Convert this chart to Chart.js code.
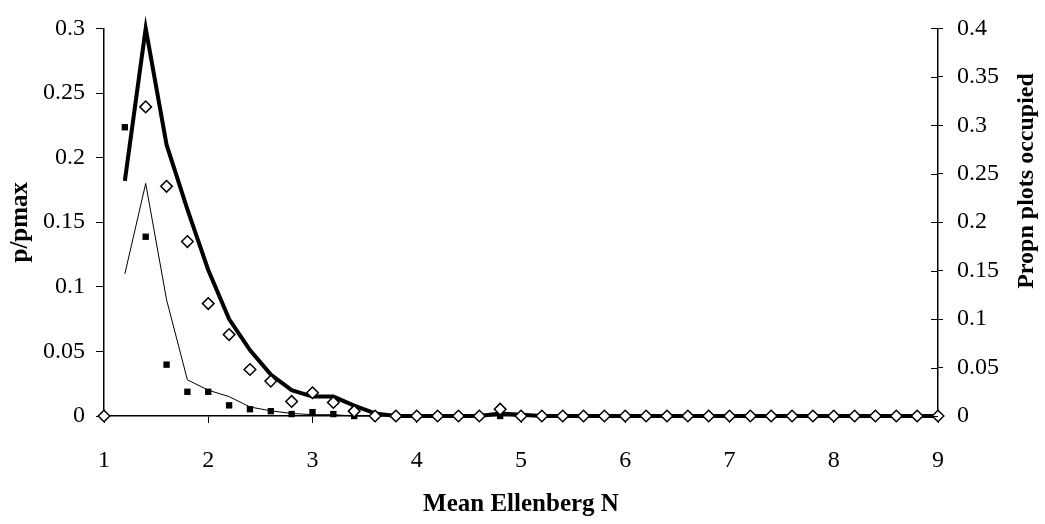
<!DOCTYPE html>
<html>
<head>
<meta charset="utf-8">
<title>Mean Ellenberg N</title>
<script src="https://cdn.jsdelivr.net/npm/chart.js@4.4.1/dist/chart.umd.min.js"></script>
<style>
    html, body { margin: 0; padding: 0; background: #fff; }
    #wrap { width: 1045px; height: 524px; position: relative; }
</style>
</head>
<body>
<div id="wrap"><canvas id="chart"></canvas></div>
<script>
// ==================== DATA ====================

const ellenbergN = [
    1.0, 1.2, 1.4, 1.6, 1.8, 2.0, 2.2, 2.4, 2.6, 2.8,
    3.0, 3.2, 3.4, 3.6, 3.8, 4.0, 4.2, 4.4, 4.6, 4.8,
    5.0, 5.2, 5.4, 5.6, 5.8, 6.0, 6.2, 6.4, 6.6, 6.8,
    7.0, 7.2, 7.4, 7.6, 7.8, 8.0, 8.2, 8.4, 8.6, 8.8,
    9.0
];

// p/pmax (left axis)
const pThick = [
    null, 0.182, 0.300, 0.210, 0.160, 0.113, 0.075, 0.051, 0.032, 0.020,
    0.015, 0.015, 0.008, 0.002, 0, 0, 0, 0, 0, 0.002,
    0.001, 0, 0, 0, 0, 0, 0, 0, 0, 0,
    0, 0, 0, 0, 0, 0, 0, 0, 0, 0,
    0
];
const pThin = [
    null, 0.110, 0.180, 0.090, 0.028, 0.020, 0.015, 0.007, 0.004, 0.002,
    0.001, 0.001, 0, 0, 0, 0, 0, 0, 0, 0.001,
    0, 0, 0, 0, 0, 0, 0, 0, 0, 0,
    0, 0, 0, 0, 0, 0, 0, 0, 0, 0,
    0
];

// Propn plots occupied (right axis)
const propOpen = [
    0, null, 0.319, 0.237, 0.180, 0.116, 0.084, 0.048, 0.036, 0.015,
    0.024, 0.014, 0.005, 0, 0, 0, 0, 0, 0, 0.007,
    0, 0, 0, 0, 0, 0, 0, 0, 0, 0,
    0, 0, 0, 0, 0, 0, 0, 0, 0, 0,
    0
];
const propFilled = [
    0, 0.298, 0.185, 0.053, 0.025, 0.025, 0.011, 0.007, 0.005, 0.002,
    0.004, 0.002, 0, 0, 0, 0, 0, 0, 0, 0,
    0, 0, 0, 0, 0, 0, 0, 0, 0, 0,
    0, 0, 0, 0, 0, 0, 0, 0, 0, 0,
    0
];

const xTitle = 'Mean Ellenberg N';
const yLeftTitle = 'p/pmax';
const yRightTitle = 'Propn plots occupied';

// ==================== HELPERS ====================

const FONT = "'Liberation Serif', 'Times New Roman', serif";
const AXIS_BORDER = { color: '#000', width: 1.5, dash: [2, 1] };

function toPoints(values) {
    return ellenbergN.map((x, i) => ({ x: x, y: values[i] }));
}

function fixedSize(prop, size) {
    return function(scale) { scale[prop] = size; };
}

// right axis ticks cross the axis line, and its title reads bottom-to-top
const rightAxisExtras = {
    id: 'rightAxisExtras',
    afterDraw(chart) {
        const ctx = chart.ctx;
        const y2 = chart.scales.y2;
        const area = chart.chartArea;
        ctx.save();
        ctx.strokeStyle = '#000';
        ctx.lineWidth = 1;
        y2.ticks.forEach(t => {
            const py = Math.round(y2.getPixelForValue(t.value)) + 0.5;
            ctx.beginPath();
            ctx.moveTo(area.right - 7, py);
            ctx.lineTo(area.right, py);
            ctx.stroke();
        });
        ctx.translate(1027, 181);
        ctx.rotate(-Math.PI / 2);
        ctx.font = 'bold 24px ' + FONT;
        ctx.fillStyle = '#000';
        ctx.textAlign = 'center';
        ctx.textBaseline = 'middle';
        ctx.fillText(yRightTitle, 0, 0);
        ctx.restore();
    }
};

// ==================== CHART ====================

const chart = new Chart(document.getElementById('chart'), {
    type: 'line',
    data: {
        datasets: [
            {
                data: toPoints(propOpen),
                yAxisID: 'y2',
                showLine: false,
                pointStyle: 'rectRot',
                pointRadius: 5.8,
                pointBorderWidth: 1.5,
                pointBorderColor: '#000',
                pointBackgroundColor: '#fff'
            },
            {
                data: toPoints(propFilled),
                yAxisID: 'y2',
                showLine: false,
                pointStyle: 'rect',
                pointRadius: 4.5,
                pointBorderWidth: 0,
                pointBorderColor: '#000',
                pointBackgroundColor: '#000'
            },
            {
                data: toPoints(pThick),
                yAxisID: 'y',
                borderColor: '#000',
                borderWidth: 4,
                borderJoinStyle: 'miter',
                pointRadius: 0,
                tension: 0
            },
            {
                data: toPoints(pThin),
                yAxisID: 'y',
                borderColor: '#000',
                borderWidth: 1,
                pointRadius: 0,
                tension: 0
            }
        ]
    },
    options: {
        responsive: true,
        maintainAspectRatio: false,
        animation: false,
        clip: false,
        layout: { padding: { top: 18, left: 0, right: 0, bottom: 0 } },
        plugins: {
            legend: { display: false },
            tooltip: { enabled: false }
        },
        scales: {
            x: {
                type: 'linear',
                position: 'bottom',
                min: 1,
                max: 9,
                afterFit: fixedSize('height', 108),
                border: AXIS_BORDER,
                grid: { drawOnChartArea: false, tickLength: 7, color: '#000' },
                ticks: {
                    stepSize: 1,
                    padding: 23,
                    color: '#000',
                    font: { family: FONT, size: 24 }
                },
                title: {
                    display: true,
                    text: xTitle,
                    color: '#000',
                    padding: { top: 0, bottom: 4 },
                    font: { family: FONT, size: 25, weight: 'bold' }
                }
            },
            y: {
                position: 'left',
                min: 0,
                max: 0.3,
                afterFit: fixedSize('width', 104),
                border: AXIS_BORDER,
                grid: { drawOnChartArea: false, tickLength: 8, color: '#000' },
                ticks: {
                    stepSize: 0.05,
                    padding: 11,
                    color: '#000',
                    font: { family: FONT, size: 24 },
                    callback: v => +v.toFixed(2)
                },
                title: {
                    display: true,
                    text: yLeftTitle,
                    color: '#000',
                    padding: { top: 6, bottom: 0 },
                    font: { family: FONT, size: 25, weight: 'bold' }
                }
            },
            y2: {
                position: 'right',
                min: 0,
                max: 0.4,
                afterFit: fixedSize('width', 107),
                border: AXIS_BORDER,
                grid: { drawOnChartArea: false, tickLength: 5, color: '#000' },
                ticks: {
                    stepSize: 0.05,
                    padding: 14,
                    color: '#000',
                    font: { family: FONT, size: 24 },
                    callback: v => +v.toFixed(2)
                }
            }
        }
    },
    plugins: [rightAxisExtras]
});
</script>
</body>
</html>
